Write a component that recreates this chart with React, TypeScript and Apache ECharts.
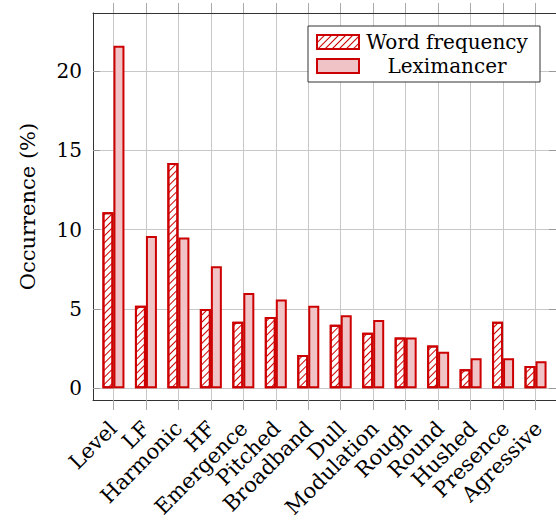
import React, { useEffect, useRef } from "react";
import * as echarts from "echarts";

const categories = [
  "Level", "LF", "Harmonic", "HF", "Emergence", "Pitched", "Broadband",
  "Dull", "Modulation", "Rough", "Round", "Hushed", "Presence", "Agressive",
];
const wordFrequency = [11.1, 5.2, 14.2, 5.0, 4.2, 4.5, 2.1, 4.0, 3.5, 3.2, 2.7, 1.2, 4.2, 1.4];
const leximancer = [21.6, 9.6, 9.5, 7.7, 6.0, 5.6, 5.2, 4.6, 4.3, 3.2, 2.3, 1.9, 1.9, 1.7];
const yTicks = [0, 5, 10, 15, 20];
const seriesNames = ["Word frequency", "Leximancer"];

const FONT = "DejaVu Serif";
const RED = "#cc0000";
const GRID = "#c8c8c8";
const FRAME = "#333333";

export default function App() {
  const ref = useRef<HTMLDivElement>(null);
  useEffect(() => {
    if (!ref.current) return;
    const chart = echarts.init(ref.current, undefined, { renderer: "svg" });
    const xIdx = categories.map((_, i) => i);
    const xMin = -0.63;
    const xMax = categories.length - 1 + 0.63;
    const yMin = -0.74;
    const yMax = 23.66;
    const band = 32.72;
    const labelLeft = 113.3 - band / 2;
    const labelWidth = band * categories.length;
    chart.setOption({
      animation: false,
      textStyle: { fontFamily: FONT },
      grid: [
        { left: 93, right: -3, top: 13, bottom: 124, containLabel: false },
        { left: labelLeft, width: labelWidth, top: 13, bottom: 124, containLabel: false },
      ],
      legend: {
        data: seriesNames,
        left: 308,
        top: 26,
        orient: "vertical",
        padding: [6, 10, 6, 8],
        itemGap: 4,
        itemWidth: 42,
        itemHeight: 14,
        itemTextGap: 6,
        icon: "rect",
        backgroundColor: "#fff",
        borderColor: FRAME,
        borderWidth: 1,
        borderRadius: 0,
        formatter: "{a|{name}}",
        textStyle: {
          fontFamily: FONT,
          fontSize: 20,
          color: "#000",
          rich: { a: { width: 166, align: "center", fontSize: 20, lineHeight: 28, fontFamily: FONT, color: "#000" } },
        },
      },
      xAxis: [
        {
          type: "value",
          gridIndex: 0,
          min: xMin,
          max: xMax,
          position: "bottom",
          axisLine: { show: true, onZero: false, lineStyle: { color: FRAME, width: 1 } },
          axisTick: { show: true, inside: false, length: 10, customValues: xIdx, lineStyle: { color: "#aaaaaa" } },
          axisLabel: { show: false, customValues: xIdx },
          splitLine: { show: true, lineStyle: { color: GRID, width: 1 } },
        },
        {
          type: "value",
          gridIndex: 0,
          min: xMin,
          max: xMax,
          position: "top",
          axisLine: { show: true, onZero: false, lineStyle: { color: FRAME, width: 1 } },
          axisTick: { show: true, inside: false, length: 10, customValues: xIdx, lineStyle: { color: "#aaaaaa" } },
          axisLabel: { show: false },
          splitLine: { show: false },
        },
        {
          type: "category",
          gridIndex: 1,
          data: categories,
          boundaryGap: true,
          position: "bottom",
          axisLine: { show: false },
          axisTick: { show: false },
          splitLine: { show: false },
          axisLabel: {
            interval: 0,
            rotate: 45,
            margin: 25,
            fontSize: 21,
            fontFamily: FONT,
            color: "#000",
          },
        },
      ],
      yAxis: [
        {
          type: "value",
          gridIndex: 0,
          min: yMin,
          max: yMax,
          position: "left",
          name: "Occurrence (%)",
          nameLocation: "middle",
          nameGap: 55,
          nameTextStyle: { fontSize: 21, fontFamily: FONT, color: "#000" },
          axisLine: { show: true, onZero: false, lineStyle: { color: FRAME, width: 1 } },
          axisTick: { show: true, inside: true, length: 7, customValues: yTicks, lineStyle: { color: "#999999" } },
          axisLabel: { customValues: yTicks, margin: 11, fontSize: 20, fontFamily: FONT, color: "#000" },
          splitLine: { show: true, lineStyle: { color: GRID, width: 1 } },
        },
        {
          type: "value",
          gridIndex: 0,
          min: yMin,
          max: yMax,
          position: "right",
          axisLine: { show: true, onZero: false, lineStyle: { color: FRAME, width: 1 } },
          axisTick: { show: true, inside: true, length: 7, customValues: yTicks, lineStyle: { color: "#999999" } },
          axisLabel: { show: false },
          splitLine: { show: false },
        },
        {
          type: "value",
          gridIndex: 1,
          min: 0,
          max: 1,
          show: false,
        },
      ],
      series: [
        {
          name: seriesNames[0],
          type: "bar",
          xAxisIndex: 0,
          yAxisIndex: 0,
          barWidth: 11,
          barGap: "0%",
          data: wordFrequency.map((v, i) => [i, v]),
          itemStyle: {
            color: "#ffffff",
            borderColor: RED,
            borderWidth: 2,
            decal: {
              symbol: "rect",
              symbolSize: 1,
              color: RED,
              dashArrayX: [1, 0],
              dashArrayY: [1, 3.5],
              rotation: -Math.PI / 4,
            },
          },
        },
        {
          name: seriesNames[1],
          type: "bar",
          xAxisIndex: 0,
          yAxisIndex: 0,
          barWidth: 11,
          barGap: "0%",
          data: leximancer.map((v, i) => [i, v]),
          itemStyle: { color: "#f0c4c6", borderColor: RED, borderWidth: 2 },
        },
      ],
    });
    return () => chart.dispose();
  }, []);
  return (
    <div
      ref={ref}
      style={{ position: "absolute", left: 0, top: 0, width: 556, height: 524, overflow: "hidden" }}
    />
  );
}
